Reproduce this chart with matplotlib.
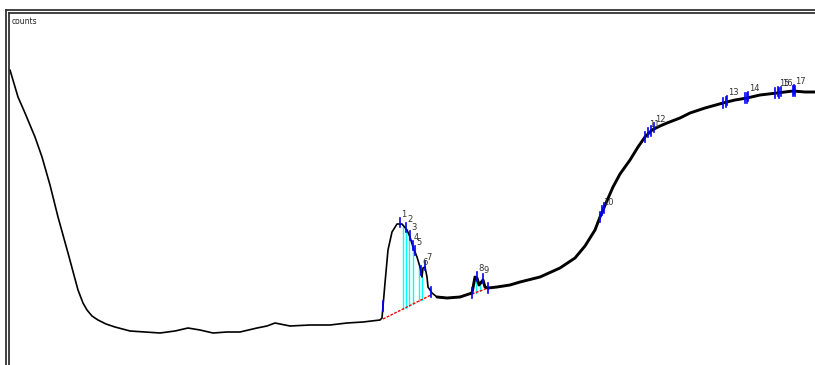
import matplotlib

matplotlib.use("Agg")
import matplotlib.pyplot as plt
from matplotlib.lines import Line2D
import numpy as np

# spectrum trace (channel, counts)
channel = [0, 1, 9, 16, 26, 33, 41, 49, 59, 69, 74, 78, 83, 89, 97, 106, 121, 136, 151,
           166, 179, 191, 204, 218, 231, 248, 258, 266, 281, 301, 321, 338, 354, 371,
           373, 376, 379, 383, 388, 393, 398, 401, 404, 408, 411, 413, 414,
           416, 418, 419, 423, 428, 438, 451, 463, 466, 468, 470, 474, 476, 479, 488,
           501, 511, 531, 551, 566, 576, 586, 591, 597, 604, 611, 621, 629, 636, 643,
           651, 658, 671, 681, 696, 714, 726, 738, 751, 768, 784, 796, 806]
counts = [295, 295, 268, 252, 228, 208, 180, 148, 112, 75, 62, 55, 49, 45, 41, 38, 34,
          33, 32, 34, 37, 35, 32, 33, 33, 37, 39, 42, 39, 40, 40, 42, 43, 45,
          47, 82, 115, 133, 141, 141, 135, 128, 118, 108, 98, 88, 97, 98, 88,
          78, 72, 68, 67, 68, 72, 88, 87, 80, 85, 78, 77, 78, 80, 83, 88, 97, 107, 119,
          135, 148, 162, 178, 191, 205, 218, 228, 235, 239, 242, 247, 252, 257, 262,
          265, 267, 270, 272, 274, 273, 273]

# identified peaks
peak_labels = ["1", "2", "3", "4", "5", "6", "7", "8", "9", "10", "11", "12", "13",
               "14", "15", "16", "17"]
peak_pos = [391, 397, 401, 404, 406, 412, 416, 468, 474, 593, 639, 645, 718, 739,
            769, 772, 785]
bound_pos = [374, 422, 463, 479, 591, 595, 636, 642, 714, 717, 736, 738, 766, 770,
             784, 786]

# integration regions: baseline ends and hatch positions
base_a = ([374, 422], [46, 70])
base_b = ([463, 479], [71, 77])
hatch_a = [394, 397, 400, 404, 410, 413]
hatch_b = [467, 471]


def main() -> None:
    fig = plt.figure(figsize=(8.15, 3.65), dpi=100)
    ax = fig.add_axes([9 / 815, 0, 806 / 815, 352 / 365])
    ax.set_xlim(0, 806)
    ax.set_ylim(0, 352)
    ax.axis("off")

    x = np.array(channel, dtype=float)
    y = np.array(counts, dtype=float)
    left = x <= 438
    ax.plot(x[left], y[left], color="black", lw=1.2, zorder=3,
            solid_joinstyle="round", solid_capstyle="round")
    right = x >= 428
    ax.plot(x[right], y[right], color="black", lw=2.1, zorder=3,
            solid_joinstyle="round", solid_capstyle="round")

    for (bx, by), hatch in ((base_a, hatch_a), (base_b, hatch_b)):
        ax.plot(bx, by, color="red", lw=1.0, ls=(0, (2, 1)), zorder=2)
        for hx in hatch:
            yb = np.interp(hx, bx, by)
            yc = np.interp(hx, x, y)
            ax.plot([hx, hx], [yb, yc], color="cyan", lw=1.0, zorder=1)

    for bx in bound_pos:
        yc = np.interp(bx, x, y)
        ax.plot([bx, bx], [yc - 5, yc + 5], color="blue", lw=1.2, zorder=4)

    for lab, px in zip(peak_labels, peak_pos):
        yc = np.interp(px, x, y)
        ax.plot([px, px], [yc - 3, yc + 6], color="blue", lw=1.2, zorder=4)
        ax.text(px + 1, yc + 5, lab, fontsize=6, color="#333333",
                ha="left", va="bottom", zorder=5)

    ax.text(3, 348, "counts", fontsize=5.5, color="#222222", ha="left", va="top")

    # double frame on the left and top
    W, H = 815, 365
    for px in (5.5, 8.5):
        fig.add_artist(Line2D([px / W, px / W], [0, 1 - (px + 4.5) / H],
                              transform=fig.transFigure, color="#333333", lw=1.3))
    for py, x0 in ((10, 5.5), (13, 8.5)):
        fig.add_artist(Line2D([x0 / W, 1], [1 - py / H, 1 - py / H],
                              transform=fig.transFigure, color="#333333", lw=1.3))

    fig.savefig("out.png", dpi=100)
    plt.close(fig)


if __name__ == "__main__":
    main()
